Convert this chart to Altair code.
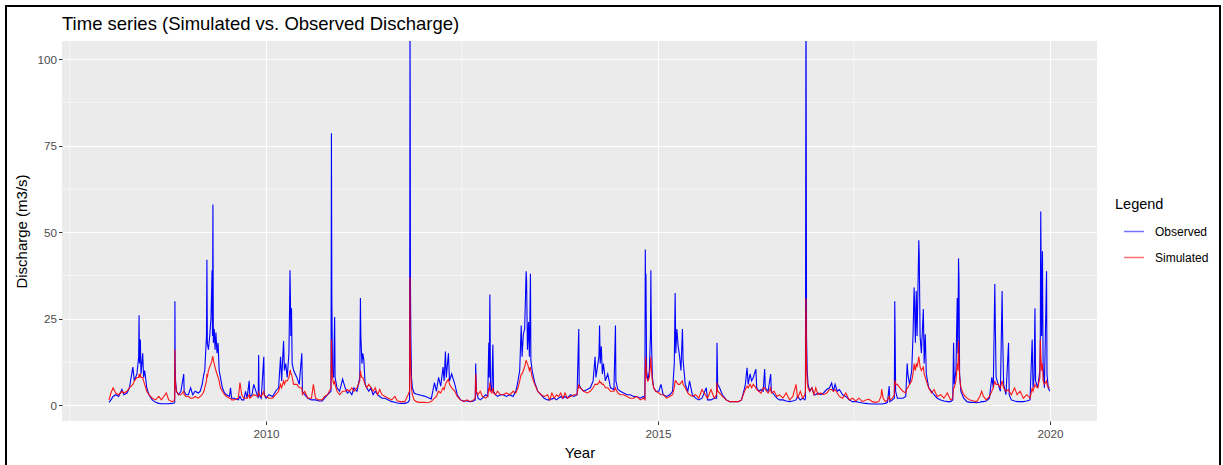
import altair as alt
import pandas as pd

# (date, observed, simulated), per year
year_2008 = [
    ("2008-01-01", 0.8, 1.5), ("2008-01-10", 1.5, 3.5), ("2008-01-20", 2.5, 5.0), ("2008-02-01", 3.0, 3.5),
    ("2008-02-15", 2.5, 3.0), ("2008-03-01", 4.5, 4.0), ("2008-03-10", 3.0, 3.5), ("2008-03-25", 3.5, 4.0),
    ("2008-04-05", 5.0, 5.0), ("2008-04-21", 11.0, 6.0), ("2008-04-28", 7.0, 7.0), ("2008-05-10", 9.0, 8.0),
    ("2008-05-18", 14.0, 8.0), ("2008-05-20", 26.0, 9.0), ("2008-05-22", 12.0, 8.0), ("2008-05-26", 19.0, 9.0),
    ("2008-05-29", 9.0, 8.0), ("2008-06-06", 15.0, 8.0), ("2008-06-10", 8.0, 7.0), ("2008-06-15", 10.0, 6.0),
    ("2008-06-25", 5.0, 4.0), ("2008-07-05", 3.0, 3.0), ("2008-07-20", 1.5, 2.0), ("2008-08-05", 0.8, 1.5),
    ("2008-08-20", 0.5, 2.5), ("2008-09-01", 0.4, 1.5), ("2008-09-24", 0.4, 3.5), ("2008-10-05", 0.4, 1.5),
    ("2008-10-20", 0.5, 1.0), ("2008-10-30", 0.6, 1.2), ("2008-11-02", 0.8, 2.0), ("2008-11-03", 30.0, 16.0),
    ("2008-11-04", 12.0, 9.0), ("2008-11-06", 7.0, 6.0), ("2008-11-10", 4.0, 4.0), ("2008-11-20", 3.0, 3.0),
    ("2008-12-01", 4.0, 3.0), ("2008-12-14", 9.0, 4.0), ("2008-12-16", 4.0, 3.0), ("2008-12-25", 3.0, 2.5),
]
year_2009 = [
    ("2009-01-05", 3.0, 2.5), ("2009-01-15", 5.0, 2.0), ("2009-01-25", 3.0, 2.0), ("2009-02-05", 4.0, 2.5),
    ("2009-02-20", 3.5, 2.0), ("2009-03-01", 4.0, 2.5), ("2009-03-10", 6.0, 3.0), ("2009-03-18", 9.0, 4.0),
    ("2009-03-22", 10.0, 5.0), ("2009-03-30", 20.0, 7.0), ("2009-04-01", 42.0, 9.0), ("2009-04-03", 18.0, 8.0),
    ("2009-04-08", 16.0, 10.0), ("2009-04-14", 20.0, 11.0), ("2009-04-20", 25.0, 12.0), ("2009-04-25", 39.0, 13.0),
    ("2009-04-27", 20.0, 14.0), ("2009-04-29", 58.0, 14.0), ("2009-05-01", 18.0, 13.0), ("2009-05-05", 22.0, 12.0),
    ("2009-05-09", 16.0, 11.0), ("2009-05-13", 21.0, 10.0), ("2009-05-18", 15.0, 9.0), ("2009-05-23", 18.0, 8.0),
    ("2009-05-28", 10.0, 7.0), ("2009-06-03", 8.0, 5.0), ("2009-06-12", 5.0, 4.0), ("2009-06-22", 3.5, 3.0),
    ("2009-07-01", 3.0, 2.5), ("2009-07-15", 2.5, 2.0), ("2009-07-20", 5.0, 2.0), ("2009-07-25", 2.0, 1.5),
    ("2009-08-05", 2.0, 1.5), ("2009-08-25", 1.5, 2.0), ("2009-09-02", 2.5, 6.5), ("2009-09-10", 1.5, 3.0),
    ("2009-09-20", 1.5, 2.0), ("2009-09-28", 4.0, 2.0), ("2009-10-05", 2.0, 2.0), ("2009-10-15", 7.0, 3.0),
    ("2009-10-18", 2.5, 2.0), ("2009-10-28", 3.0, 2.5), ("2009-11-05", 6.0, 3.0), ("2009-11-26", 2.0, 2.5),
    ("2009-11-28", 14.5, 4.0), ("2009-11-30", 3.0, 3.0), ("2009-12-10", 2.0, 2.5), ("2009-12-22", 14.0, 4.0),
    ("2009-12-24", 3.0, 3.0),
]
year_2010 = [
    ("2010-01-01", 2.0, 2.5), ("2010-01-15", 3.0, 2.0), ("2010-02-01", 2.5, 2.0), ("2010-02-15", 4.0, 3.0),
    ("2010-03-01", 5.0, 4.0), ("2010-03-10", 14.0, 6.0), ("2010-03-15", 7.0, 5.0), ("2010-03-24", 18.5, 7.0),
    ("2010-03-28", 10.0, 6.0), ("2010-04-03", 12.0, 7.0), ("2010-04-10", 8.0, 7.0), ("2010-04-18", 15.0, 8.0),
    ("2010-04-21", 28.0, 9.0), ("2010-04-23", 39.0, 10.0), ("2010-04-25", 31.0, 10.0), ("2010-04-27", 20.0, 9.0),
    ("2010-04-30", 28.0, 9.0), ("2010-05-03", 12.0, 8.0), ("2010-05-10", 10.0, 6.0), ("2010-05-25", 8.0, 6.0),
    ("2010-06-05", 6.0, 5.0), ("2010-06-17", 15.0, 5.0), ("2010-06-20", 4.0, 3.0), ("2010-07-01", 3.0, 4.0),
    ("2010-07-15", 2.0, 2.0), ("2010-08-01", 1.5, 2.0), ("2010-08-10", 1.5, 6.0), ("2010-08-20", 1.5, 2.0),
    ("2010-09-05", 1.2, 1.5), ("2010-09-20", 1.2, 1.5), ("2010-10-01", 2.0, 2.5), ("2010-10-15", 3.0, 3.0),
    ("2010-10-31", 4.0, 5.0), ("2010-11-02", 78.6, 19.0), ("2010-11-04", 30.0, 12.0), ("2010-11-07", 10.0, 8.0),
    ("2010-11-12", 8.0, 6.0), ("2010-11-17", 25.5, 7.0), ("2010-11-19", 8.0, 6.0), ("2010-11-28", 5.0, 4.0),
    ("2010-12-10", 4.0, 3.0), ("2010-12-24", 7.5, 4.0),
]
year_2011 = [
    ("2011-01-05", 5.0, 4.0), ("2011-01-15", 3.5, 4.5), ("2011-01-25", 4.0, 4.0), ("2011-02-05", 3.0, 5.0),
    ("2011-02-15", 5.0, 4.0), ("2011-03-01", 4.0, 5.0), ("2011-03-14", 8.0, 7.0), ("2011-03-17", 31.0, 10.0),
    ("2011-03-19", 20.0, 9.0), ("2011-03-24", 12.0, 8.0), ("2011-03-28", 15.0, 8.0), ("2011-04-02", 13.0, 7.0),
    ("2011-04-08", 6.0, 6.0), ("2011-04-15", 5.0, 5.0), ("2011-04-25", 4.0, 6.0), ("2011-05-05", 5.0, 5.0),
    ("2011-05-15", 3.0, 4.0), ("2011-05-25", 4.0, 5.0), ("2011-06-05", 3.0, 3.0), ("2011-06-15", 2.5, 4.5),
    ("2011-06-25", 2.0, 3.0), ("2011-07-10", 2.0, 2.5), ("2011-07-25", 1.5, 2.0), ("2011-08-10", 1.0, 1.5),
    ("2011-08-25", 0.8, 2.5), ("2011-09-05", 0.6, 1.2), ("2011-09-20", 0.5, 1.0), ("2011-10-10", 0.5, 1.0),
    ("2011-10-25", 0.8, 3.0), ("2011-11-01", 1.5, 4.0), ("2011-11-03", 108.0, 37.0), ("2011-11-04", 90.0, 20.0),
    ("2011-11-05", 35.0, 15.0), ("2011-11-07", 20.0, 10.0), ("2011-11-10", 8.0, 5.0), ("2011-11-14", 5.0, 3.0),
    ("2011-11-22", 3.5, 1.5), ("2011-12-02", 3.2, 1.0), ("2011-12-15", 3.0, 0.8), ("2011-12-28", 2.8, 0.8),
]
year_2012 = [
    ("2012-01-10", 2.6, 0.8), ("2012-01-25", 2.2, 0.7), ("2012-02-10", 1.8, 1.0), ("2012-02-25", 6.5, 2.0),
    ("2012-03-05", 4.0, 2.5), ("2012-03-15", 8.0, 4.0), ("2012-03-25", 5.5, 3.5), ("2012-04-05", 11.0, 5.0),
    ("2012-04-10", 7.0, 4.5), ("2012-04-16", 15.5, 6.0), ("2012-04-20", 8.0, 6.5), ("2012-04-30", 15.0, 7.5),
    ("2012-05-05", 7.0, 6.0), ("2012-05-15", 9.0, 5.0), ("2012-05-30", 6.0, 4.0), ("2012-06-10", 3.0, 2.5),
    ("2012-06-25", 1.5, 1.5), ("2012-07-10", 1.2, 1.0), ("2012-07-25", 1.2, 1.5), ("2012-08-10", 1.0, 1.0),
    ("2012-08-25", 1.2, 1.5), ("2012-09-02", 1.5, 2.0), ("2012-09-04", 12.0, 9.0), ("2012-09-07", 4.0, 4.0),
    ("2012-09-15", 2.0, 3.0), ("2012-09-25", 1.5, 4.0), ("2012-10-05", 2.0, 2.5), ("2012-10-20", 3.0, 2.0),
    ("2012-10-30", 2.5, 2.5), ("2012-11-04", 18.0, 5.0), ("2012-11-06", 8.0, 4.0), ("2012-11-09", 32.0, 6.5),
    ("2012-11-12", 6.0, 4.0), ("2012-11-18", 4.0, 3.5), ("2012-11-23", 17.5, 5.0), ("2012-11-26", 4.0, 3.5),
    ("2012-12-05", 3.0, 3.0), ("2012-12-15", 2.5, 4.0), ("2012-12-28", 3.0, 3.0),
]
year_2013 = [
    ("2013-01-10", 3.0, 3.0), ("2013-01-25", 2.5, 3.5), ("2013-02-10", 3.0, 3.0), ("2013-02-25", 2.5, 4.0),
    ("2013-03-10", 4.0, 3.5), ("2013-03-20", 7.0, 5.0), ("2013-03-28", 10.0, 7.0), ("2013-04-04", 23.0, 9.0),
    ("2013-04-08", 14.0, 9.0), ("2013-04-14", 20.5, 10.0), ("2013-04-20", 22.0, 11.0), ("2013-04-27", 38.7, 13.0),
    ("2013-04-29", 36.0, 12.5), ("2013-05-03", 16.0, 12.0), ("2013-05-08", 24.0, 11.0), ("2013-05-12", 14.0, 10.0),
    ("2013-05-17", 38.0, 11.0), ("2013-05-19", 13.0, 10.0), ("2013-05-25", 10.0, 8.0), ("2013-06-06", 6.5, 6.0),
    ("2013-06-20", 4.0, 4.0), ("2013-07-05", 3.0, 3.0), ("2013-07-20", 2.0, 2.5), ("2013-08-05", 1.5, 3.0),
    ("2013-08-15", 1.5, 1.5), ("2013-08-25", 1.8, 3.5), ("2013-09-05", 2.0, 2.0), ("2013-09-15", 1.5, 3.0),
    ("2013-09-25", 2.0, 2.5), ("2013-10-05", 2.5, 3.5), ("2013-10-15", 2.0, 2.0), ("2013-10-25", 2.5, 3.5),
    ("2013-11-05", 2.0, 2.0), ("2013-11-20", 3.0, 2.5), ("2013-12-05", 2.5, 3.0), ("2013-12-20", 3.0, 3.0),
    ("2013-12-28", 22.0, 6.0), ("2013-12-30", 6.0, 5.0),
]
year_2014 = [
    ("2014-01-05", 5.0, 5.0), ("2014-01-20", 4.0, 4.0), ("2014-02-05", 4.5, 3.5), ("2014-02-20", 5.0, 4.0),
    ("2014-03-05", 7.0, 5.0), ("2014-03-14", 14.0, 6.0), ("2014-03-18", 8.0, 6.0), ("2014-03-25", 11.0, 6.0),
    ("2014-04-01", 14.0, 6.5), ("2014-04-04", 23.0, 7.0), ("2014-04-07", 12.0, 6.5), ("2014-04-12", 17.0, 6.5),
    ("2014-04-17", 9.0, 6.0), ("2014-04-22", 12.0, 6.0), ("2014-05-01", 7.0, 5.0), ("2014-05-12", 9.0, 5.0),
    ("2014-05-25", 5.0, 4.0), ("2014-06-10", 4.5, 4.0), ("2014-06-17", 23.0, 5.0), ("2014-06-19", 7.0, 4.5),
    ("2014-06-28", 4.5, 3.5), ("2014-07-10", 4.0, 3.0), ("2014-07-25", 3.5, 3.0), ("2014-08-10", 3.0, 2.5),
    ("2014-08-25", 3.0, 2.0), ("2014-09-10", 2.5, 2.0), ("2014-09-25", 2.5, 2.5), ("2014-10-10", 2.0, 1.5),
    ("2014-10-25", 2.5, 2.0), ("2014-11-01", 2.0, 1.5), ("2014-11-03", 45.0, 10.0), ("2014-11-05", 25.0, 14.0),
    ("2014-11-06", 38.0, 12.0), ("2014-11-09", 10.0, 8.0), ("2014-11-15", 7.0, 7.0), ("2014-11-22", 10.0, 8.0),
    ("2014-11-27", 20.0, 12.0), ("2014-11-29", 39.0, 14.0), ("2014-11-30", 28.0, 12.0), ("2014-12-02", 18.0, 10.0),
    ("2014-12-06", 8.0, 7.0), ("2014-12-12", 5.0, 5.0), ("2014-12-22", 4.0, 4.0),
]
year_2015 = [
    ("2015-01-05", 4.0, 3.5), ("2015-01-15", 6.0, 3.0), ("2015-01-25", 3.0, 3.0), ("2015-02-10", 2.5, 2.0),
    ("2015-02-25", 3.0, 2.5), ("2015-03-10", 4.0, 3.0), ("2015-03-18", 12.0, 5.0), ("2015-03-22", 32.4, 7.0),
    ("2015-03-25", 15.0, 7.0), ("2015-03-30", 22.0, 6.5), ("2015-04-05", 17.0, 6.0), ("2015-04-12", 14.0, 6.0),
    ("2015-04-18", 10.0, 6.5), ("2015-04-25", 22.0, 7.0), ("2015-04-28", 13.0, 6.0), ("2015-05-08", 6.0, 5.0),
    ("2015-05-20", 4.0, 3.5), ("2015-05-28", 7.0, 3.0), ("2015-06-10", 3.0, 2.5), ("2015-06-25", 2.0, 3.0),
    ("2015-07-10", 1.5, 2.0), ("2015-07-25", 2.0, 4.5), ("2015-08-14", 5.0, 2.5), ("2015-08-20", 1.5, 2.0),
    ("2015-09-05", 1.5, 4.5), ("2015-09-20", 2.0, 2.0), ("2015-10-01", 2.0, 3.0), ("2015-10-03", 18.0, 6.5),
    ("2015-10-06", 6.0, 4.0), ("2015-10-15", 5.0, 3.5), ("2015-10-28", 3.0, 2.5), ("2015-11-15", 1.5, 1.5),
    ("2015-12-01", 1.0, 1.0), ("2015-12-20", 1.0, 1.0),
]
year_2016 = [
    ("2016-01-10", 1.0, 1.0), ("2016-01-25", 1.5, 1.5), ("2016-02-05", 4.0, 3.5), ("2016-02-12", 6.0, 4.5),
    ("2016-02-20", 10.8, 5.5), ("2016-02-25", 6.0, 5.0), ("2016-03-05", 9.0, 6.0), ("2016-03-12", 7.0, 5.0),
    ("2016-03-20", 8.0, 6.0), ("2016-04-01", 10.4, 5.0), ("2016-04-05", 5.0, 4.5), ("2016-04-15", 4.0, 4.0),
    ("2016-04-25", 4.5, 3.5), ("2016-05-05", 4.0, 5.0), ("2016-05-12", 10.4, 5.0), ("2016-05-15", 5.0, 4.5),
    ("2016-05-28", 4.0, 3.5), ("2016-06-09", 9.0, 5.0), ("2016-06-12", 4.0, 3.5), ("2016-06-25", 3.0, 4.0),
    ("2016-07-08", 2.0, 2.5), ("2016-07-20", 1.5, 3.0), ("2016-08-05", 1.5, 2.0), ("2016-08-20", 1.2, 3.5),
    ("2016-09-05", 1.0, 1.5), ("2016-09-20", 1.2, 2.5), ("2016-10-05", 1.5, 6.0), ("2016-10-12", 2.5, 2.0),
    ("2016-10-25", 1.5, 4.0), ("2016-11-05", 2.0, 2.0), ("2016-11-15", 1.5, 3.0), ("2016-11-18", 2.0, 4.0),
    ("2016-11-20", 103.0, 31.0), ("2016-11-21", 108.0, 28.0), ("2016-11-23", 20.0, 12.0), ("2016-11-26", 10.0, 7.0),
    ("2016-11-30", 6.0, 5.0), ("2016-12-08", 4.0, 4.0), ("2016-12-18", 5.0, 5.0), ("2016-12-28", 3.0, 3.0),
]
year_2017 = [
    ("2017-01-05", 3.0, 5.0), ("2017-01-15", 3.5, 3.0), ("2017-01-28", 3.0, 3.5), ("2017-02-10", 3.5, 3.0),
    ("2017-02-25", 4.5, 3.5), ("2017-03-10", 5.0, 4.5), ("2017-03-20", 6.4, 4.5), ("2017-03-28", 4.0, 4.0),
    ("2017-04-05", 6.0, 4.5), ("2017-04-15", 4.0, 3.5), ("2017-04-25", 4.5, 2.5), ("2017-05-10", 3.0, 2.0),
    ("2017-05-25", 2.5, 3.5), ("2017-06-10", 1.5, 1.5), ("2017-06-25", 1.0, 2.0), ("2017-07-10", 1.0, 1.2),
    ("2017-07-25", 0.8, 2.0), ("2017-08-10", 0.6, 1.0), ("2017-08-25", 0.5, 1.5), ("2017-09-10", 0.4, 1.7),
    ("2017-09-25", 0.3, 1.0), ("2017-10-10", 0.3, 0.8), ("2017-10-25", 0.3, 1.0), ("2017-11-05", 0.3, 2.5),
    ("2017-11-08", 0.3, 4.6), ("2017-11-15", 0.4, 2.0), ("2017-11-25", 0.5, 1.0), ("2017-12-05", 0.8, 1.5),
    ("2017-12-13", 5.5, 2.5), ("2017-12-16", 1.0, 1.5), ("2017-12-28", 1.5, 2.0),
]
year_2018 = [
    ("2018-01-06", 2.0, 3.0), ("2018-01-08", 30.0, 7.0), ("2018-01-09", 24.0, 7.0), ("2018-01-12", 4.0, 6.0),
    ("2018-01-20", 2.0, 6.0), ("2018-02-01", 2.0, 5.0), ("2018-02-15", 2.0, 4.0), ("2018-02-28", 2.5, 3.5),
    ("2018-03-07", 12.0, 5.0), ("2018-03-10", 9.0, 5.0), ("2018-03-18", 6.0, 6.0), ("2018-03-28", 10.0, 7.0),
    ("2018-04-03", 20.0, 9.0), ("2018-04-08", 34.0, 12.0), ("2018-04-10", 30.0, 11.0), ("2018-04-14", 18.0, 10.0),
    ("2018-04-18", 33.0, 12.0), ("2018-04-22", 20.0, 11.0), ("2018-04-30", 47.7, 14.0), ("2018-05-02", 43.0, 13.0),
    ("2018-05-06", 20.0, 11.0), ("2018-05-12", 15.0, 10.0), ("2018-05-21", 27.8, 11.0), ("2018-05-25", 12.0, 9.0),
    ("2018-05-30", 20.5, 8.0), ("2018-06-04", 9.0, 7.0), ("2018-06-15", 5.0, 5.0), ("2018-06-28", 4.0, 3.5),
    ("2018-07-10", 3.0, 4.5), ("2018-07-25", 2.0, 2.5), ("2018-08-10", 1.5, 3.0), ("2018-08-25", 1.2, 2.0),
    ("2018-09-10", 1.0, 3.5), ("2018-09-25", 1.0, 1.5), ("2018-10-05", 1.5, 2.0), ("2018-10-09", 18.0, 5.0),
    ("2018-10-12", 6.0, 5.0), ("2018-10-20", 10.0, 7.0), ("2018-10-26", 31.0, 12.0), ("2018-10-29", 15.0, 10.0),
    ("2018-11-01", 42.5, 18.7), ("2018-11-03", 37.0, 14.0), ("2018-11-06", 9.0, 8.0), ("2018-11-12", 4.0, 5.0),
    ("2018-11-25", 2.0, 3.0), ("2018-12-10", 1.0, 2.0), ("2018-12-25", 0.8, 1.5),
]
year_2019 = [
    ("2019-01-10", 0.8, 1.2), ("2019-01-25", 0.7, 1.0), ("2019-02-08", 0.8, 2.5), ("2019-02-17", 1.0, 4.0),
    ("2019-02-25", 1.0, 2.5), ("2019-03-10", 1.2, 1.5), ("2019-03-25", 2.0, 2.5), ("2019-04-05", 8.0, 4.0),
    ("2019-04-12", 5.0, 5.0), ("2019-04-19", 35.0, 7.0), ("2019-04-21", 25.0, 6.5), ("2019-04-25", 8.0, 6.0),
    ("2019-05-05", 6.0, 6.0), ("2019-05-15", 4.0, 5.0), ("2019-05-23", 33.0, 7.0), ("2019-05-25", 22.0, 6.5),
    ("2019-05-30", 6.0, 5.0), ("2019-06-10", 3.0, 4.0), ("2019-06-22", 18.0, 4.5), ("2019-06-25", 3.0, 4.0),
    ("2019-07-05", 1.5, 3.0), ("2019-07-20", 1.2, 5.0), ("2019-08-01", 1.0, 3.0), ("2019-08-15", 1.0, 4.0),
    ("2019-08-30", 1.0, 2.0), ("2019-09-15", 1.2, 3.0), ("2019-09-30", 1.5, 2.0), ("2019-10-10", 19.0, 5.0),
    ("2019-10-14", 5.0, 4.0), ("2019-10-19", 8.0, 5.0), ("2019-10-23", 28.0, 6.0), ("2019-10-26", 7.0, 5.5),
    ("2019-11-05", 5.0, 5.0), ("2019-11-15", 10.0, 8.0), ("2019-11-17", 20.0, 19.0), ("2019-11-19", 56.0, 15.0),
    ("2019-11-23", 20.0, 10.0), ("2019-11-27", 44.5, 12.0), ("2019-11-30", 11.0, 7.0), ("2019-12-06", 5.0, 6.0),
    ("2019-12-16", 38.7, 7.0), ("2019-12-18", 9.0, 6.0), ("2019-12-24", 5.0, 5.0), ("2019-12-31", 4.0, 5.0),
]

series_names = ["Observed", "Simulated"]
series_colors = ["#0000FF", "#FF0000"]
y_ticks = [0, 25, 50, 75, 100]
y_minor = [12.5, 37.5, 62.5, 87.5]
x_tick_years = [2010, 2015, 2020]
x_minor = ["2007-07-02T12:00:00Z", "2012-07-02T12:00:00Z", "2017-07-02T12:00:00Z"]

rows = (year_2008 + year_2009 + year_2010 + year_2011 + year_2012 + year_2013
        + year_2014 + year_2015 + year_2016 + year_2017 + year_2018 + year_2019)
records = []
for d, o, s in rows:
    records.append({"date": d, "series": "Observed", "value": o})
    records.append({"date": d, "series": "Simulated", "value": s})
df = pd.DataFrame(records)

FONT = "Liberation Sans"

x_scale = alt.Scale(
    type="utc",
    domain=[alt.DateTime(year=2007, month=5, date=27, utc=True),
            alt.DateTime(year=2020, month=8, date=7, utc=True)],
    nice=False,
)
y_scale = alt.Scale(domain=[-4.6, 105.3], nice=False, zero=False)

x_axis = alt.Axis(
    values=[alt.DateTime(year=y, month=1, date=1, utc=True) for y in x_tick_years],
    format="%Y", title="Year", titlePadding=5, labelPadding=4,
)
y_axis = alt.Axis(values=y_ticks, title="Discharge (m3/s)", titlePadding=7)

color = alt.Color(
    "series:N",
    scale=alt.Scale(domain=series_names, range=series_colors),
    legend=alt.Legend(title="Legend"),
)

minor_h = alt.Chart(pd.DataFrame({"v": y_minor})).mark_rule(
    color="white", strokeWidth=0.55
).encode(y=alt.Y("v:Q", scale=y_scale, axis=y_axis))

minor_v = alt.Chart(pd.DataFrame({"d": x_minor})).mark_rule(
    color="white", strokeWidth=0.55
).encode(x=alt.X("d:T", scale=x_scale, axis=x_axis))

obs_line = alt.Chart(df).transform_filter(
    alt.datum.series == "Observed"
).mark_line(strokeWidth=1.1, clip=True).encode(
    x=alt.X("date:T", scale=x_scale, axis=x_axis),
    y=alt.Y("value:Q", scale=y_scale, axis=y_axis),
    color=color,
)

sim_line = alt.Chart(df).transform_filter(
    alt.datum.series == "Simulated"
).mark_line(strokeWidth=1.1, clip=True, opacity=0.9).encode(
    x=alt.X("date:T", scale=x_scale, axis=x_axis),
    y=alt.Y("value:Q", scale=y_scale, axis=y_axis),
    color=color,
)

frame = alt.Chart(pd.DataFrame({"k": [0]})).mark_rect(
    filled=False, stroke="black", strokeWidth=2, clip=False
).encode(x=alt.value(-56), x2=alt.value(1158), y=alt.value(-35), y2=alt.value(500))

chart = alt.layer(minor_h, minor_v, obs_line, sim_line, frame).properties(
    width=1035,
    height=380,
    autosize=alt.AutoSizeParams(type="none"),
    padding={"left": 62, "top": 41, "right": 126, "bottom": 44},
    title=alt.TitleParams(
        "Time series (Simulated vs. Observed Discharge)",
        anchor="start", frame="group", fontSize=18.5, font=FONT,
        fontWeight="normal", color="black", offset=-43, baseline="alphabetic",
    ),
).configure_view(
    fill="#EBEBEB", strokeWidth=0
).configure_axis(
    domain=False, tickColor="#333333", tickSize=3.5, tickWidth=1,
    labelColor="#4D4D4D", labelFontSize=11.7, labelFont=FONT, labelPadding=2,
    titleFont=FONT, titleFontSize=15, titleColor="black", titleFontWeight="normal",
    gridColor="white", gridWidth=1.1,
).configure_legend(
    orient="none", legendX=1053, legendY=157,
    titleFont=FONT, titleFontSize=14.5, titleFontWeight="normal", titleColor="black",
    titlePadding=8, labelFont=FONT, labelFontSize=12, labelColor="black",
    symbolType="stroke", symbolSize=400, symbolStrokeWidth=1.5, symbolOpacity=0.55,
    symbolOffset=8, labelOffset=10, rowPadding=9, padding=0,
)

chart.save("out.html", embed_options={"renderer": "svg", "actions": False})
